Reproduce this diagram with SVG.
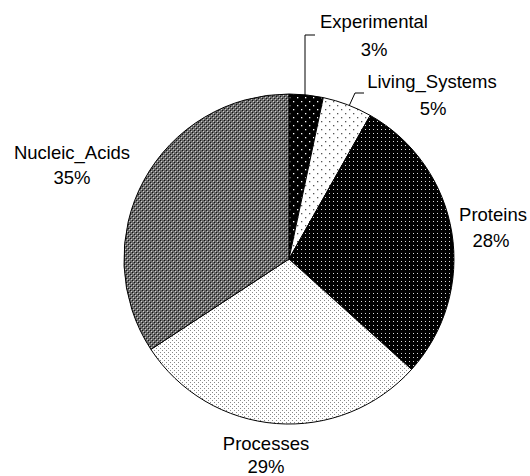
<svg xmlns="http://www.w3.org/2000/svg" width="530" height="476" viewBox="0 0 530 476">
<defs>
<pattern id="pExp" width="8" height="8" patternUnits="userSpaceOnUse"><rect width="8" height="8" fill="#000"/><rect x="1" y="1" width="1.3" height="1.3" fill="#fff"/><rect x="5" y="5" width="1.3" height="1.3" fill="#fff"/></pattern>
<pattern id="pLiv" width="8" height="8" patternUnits="userSpaceOnUse"><rect width="8" height="8" fill="#fff"/><rect x="1" y="1" width="1.3" height="1.3" fill="#555"/><rect x="5" y="5" width="1.3" height="1.3" fill="#555"/></pattern>
<pattern id="pProt" width="4" height="4" patternUnits="userSpaceOnUse"><rect width="4" height="4" fill="#000"/><rect x="1" y="1" width="1" height="1" fill="#ddd"/></pattern>
<pattern id="pProc" width="4" height="4" patternUnits="userSpaceOnUse"><rect width="4" height="4" fill="#fff"/><rect x="0" y="0" width="1" height="1" fill="#888"/><rect x="2" y="2" width="1" height="1" fill="#888"/></pattern>
<pattern id="pNuc" width="4" height="4" patternUnits="userSpaceOnUse"><rect width="4" height="4" fill="#6a6a6a"/><rect x="0" y="0" width="1" height="1" fill="#111"/><rect x="2" y="2" width="1" height="1" fill="#111"/><rect x="1" y="1" width="1" height="1" fill="#ccc"/><rect x="3" y="3" width="1" height="1" fill="#ccc"/></pattern>
</defs>
<style>
.s{stroke:#000;stroke-width:1;stroke-linejoin:round}
.t{font-family:"Liberation Sans",Arial,sans-serif;font-size:18.5px;fill:#000;text-anchor:middle}
.l{fill:none;stroke:#000;stroke-width:1}
</style>
<g id="Experimental">
<path class="s" fill="url(#pExp)" d="M289,259 L289,94 A165,165 0 0 1 323.3,97.6 Z"/>
<text class="t" x="374" y="28">Experimental</text>
<text class="t" x="374" y="56">3%</text>
</g>
<g id="Living_Systems">
<path class="s" fill="url(#pLiv)" d="M289,259 L323.3,97.6 A165,165 0 0 1 370.2,115.4 Z"/>
<text class="t" x="432" y="88">Living_Systems</text>
<text class="t" x="433" y="115">5%</text>
</g>
<g id="Proteins">
<path class="s" fill="url(#pProt)" d="M289,259 L370.2,115.4 A165,165 0 0 1 411.6,369.4 Z"/>
<text class="t" x="493" y="221">Proteins</text>
<text class="t" x="491" y="247">28%</text>
</g>
<g id="Processes">
<path class="s" fill="url(#pProc)" d="M289,259 L411.6,369.4 A165,165 0 0 1 150.9,349.4 Z"/>
<text class="t" x="266" y="450">Processes</text>
<text class="t" x="266" y="473">29%</text>
</g>
<g id="Nucleic_Acids">
<path class="s" fill="url(#pNuc)" d="M289,259 L150.9,349.4 A165,165 0 0 1 289,94 Z"/>
<text class="t" x="72" y="159">Nucleic_Acids</text>
<text class="t" x="72" y="184">35%</text>
</g>
<g id="connectors">
<polyline class="l" points="315,35 305,35 305,95"/>
<polyline class="l" points="364,93 355,93 349.5,105"/>
</g>
</svg>
